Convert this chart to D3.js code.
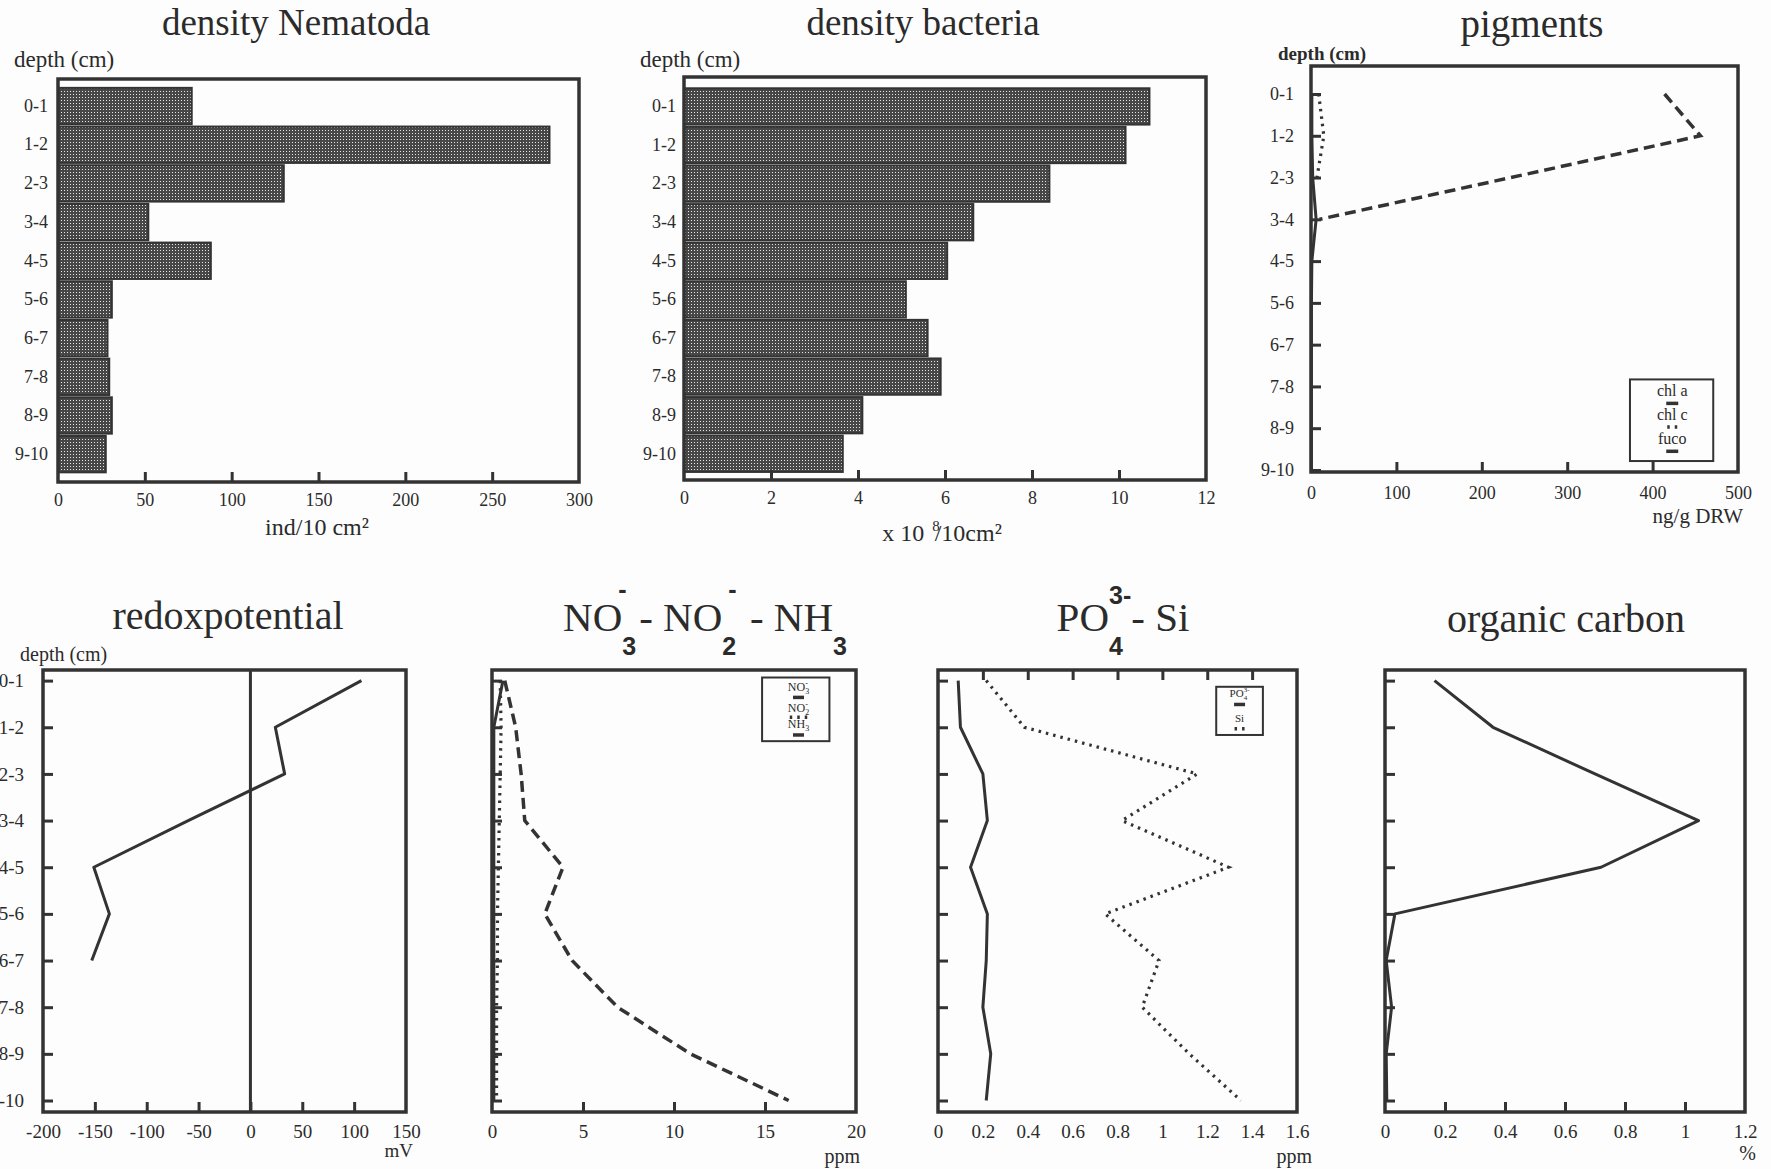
<!DOCTYPE html>
<html>
<head>
<meta charset="utf-8">
<script src="https://cdn.jsdelivr.net/npm/d3@7"></script>
<style>
	body { margin: 0; background: #fdfdfd; }
	svg { display: block; }
	text { font-family: "Liberation Serif", "Times New Roman", serif; fill: #2b2b2b; }
	.sans { font-family: "Liberation Sans", Arial, sans-serif; font-weight: bold; }
	.frame { fill: none; stroke: #333; stroke-width: 3.5; }
	.axis .tick line { stroke: #333; stroke-width: 3; }
	.axis .tick text { fill: #2b2b2b; font-family: "Liberation Serif", "Times New Roman", serif; }
	.ax-top .tick text { font-size: 18px; }
	.ax-bot .tick text { font-size: 19px; }
	.bar { fill: url(#stipple); stroke: #333; stroke-width: 2; }
	.solid { fill: none; stroke: #333; stroke-width: 3; stroke-linejoin: round; }
	.dashed { fill: none; stroke: #333; stroke-width: 3.5; stroke-dasharray: 11 6; }
	.dotted { fill: none; stroke: #333; stroke-width: 3.2; stroke-dasharray: 2.5 5; }
	.sample { stroke-width: 3.5; stroke-dasharray: none; }
	.sample.dotted { stroke-dasharray: 2.5 5; }
	.zero { stroke: #333; stroke-width: 3; }
	.legend-box { fill: #fdfdfd; stroke: #333; stroke-width: 2; }
</style>
</head>
<body>
<svg id="fig" width="1771" height="1169"></svg>
<script>
var DEPTHS = ["0-1", "1-2", "2-3", "3-4", "4-5", "5-6", "6-7", "7-8", "8-9", "9-10"];

// ind/10 cm2
var NEMATODA = [77, 283, 130, 52, 88, 31, 28.5, 29.5, 31, 27.5];
// x 10^8 / 10 cm2
var BACTERIA = [10.7, 10.15, 8.4, 6.65, 6.05, 5.1, 5.6, 5.9, 4.1, 3.65];

// ng/g DRW
var CHL_A = [1, 1, 2, 6, 1, 0.5, 0.5, 0.5, 0.5, 0.5];
var CHL_C = [9, 15, 7, null, null, null, null, null, null, null];
var FUCO  = [414, 456, 234, 10, null, null, null, null, null, null];

// mV
var REDOX = [107, 24, 33, -60, -151, -136, -153, null, null, null];

// ppm
var NO3 = [0.6, 0.1, 0.1, 0.1, 0.1, 0.1, 0.1, 0.1, 0.1, 0.1];
var NO2 = [0.45, 0.5, 0.45, 0.4, 0.35, 0.3, 0.3, 0.25, 0.25, 0.25];
var NH3 = [0.7, 1.3, 1.6, 1.8, 3.9, 2.9, 4.4, 6.9, 10.9, 16.3];

// ppm
var PO4 = [0.09, 0.10, 0.20, 0.22, 0.145, 0.22, 0.215, 0.20, 0.235, 0.215];
var SI  = [0.215, 0.385, 1.155, 0.82, 1.295, 0.745, 0.985, 0.91, 1.12, 1.35];

// %
var ORG_C = [0.165, 0.36, 0.70, 1.045, 0.72, 0.033, 0.004, 0.022, 0.004, 0.006];

var NEMA_TICKS  = [0, 50, 100, 150, 200, 250, 300];
var BACT_TICKS  = [0, 2, 4, 6, 8, 10, 12];
var PIG_TICKS   = [0, 100, 200, 300, 400, 500];
var REDOX_TICKS = [-200, -150, -100, -50, 0, 50, 100, 150];
var N_TICKS     = [0, 5, 10, 15, 20];
var P_TICKS     = [0, 0.2, 0.4, 0.6, 0.8, 1, 1.2, 1.4, 1.6];
var C_TICKS     = [0, 0.2, 0.4, 0.6, 0.8, 1, 1.2];

var svg = d3.select("#fig");

svg.append("rect")
   .attr("width", 1771)
   .attr("height", 1169)
   .attr("fill", "#fdfdfd");

// stippled fill of the bars
var pat = svg.append("defs")
             .append("pattern")
             .attr("id", "stipple")
             .attr("width", 3)
             .attr("height", 3)
             .attr("patternUnits", "userSpaceOnUse");
pat.append("rect").attr("width", 3).attr("height", 3).attr("fill", "#474747");
pat.append("rect").attr("x", 1).attr("y", 1).attr("width", 1).attr("height", 1).attr("fill", "#e6e6e6");

function inner(ticks) {
	return ticks.slice(1, ticks.length - 1);
}

function label(g, x, y, str, size, anchor) {
	return g.append("text")
	        .attr("x", x)
	        .attr("y", y)
	        .attr("font-size", size)
	        .attr("text-anchor", anchor || "start")
	        .text(str);
}

// text with stacked sub/superscripts, centred on cx
function chem(g, cx, y, parts, o) {
	var t = g.append("g");
	var pos = 0;
	parts.forEach(p => {
		if (typeof p === "string") {
			var el = t.append("text")
			          .attr("x", pos)
			          .attr("y", y)
			          .attr("font-size", o.size)
			          .text(p);
			pos += el.node().getComputedTextLength();
		} else {
			var w = 0;
			if (p.sub) {
				var s = t.append("text")
				         .attr("class", o.cls)
				         .attr("x", pos)
				         .attr("y", y + o.drop)
				         .attr("font-size", o.small)
				         .text(p.sub);
				w = Math.max(w, s.node().getComputedTextLength());
			}
			if (p.sup) {
				var u = t.append("text")
				         .attr("class", o.cls)
				         .attr("x", pos + (p.supDx || 0))
				         .attr("y", y - o.rise)
				         .attr("font-size", o.small)
				         .text(p.sup);
				w = Math.max(w, u.node().getComputedTextLength() + (p.supDx || 0));
			}
			pos += w + (p.gap || 0);
		}
	});
	t.attr("transform", "translate(" + (cx - pos / 2) + ",0)");
	return t;
}

function frame(g, box) {
	g.append("rect")
	 .attr("class", "frame")
	 .attr("x", box.x0)
	 .attr("y", box.y0)
	 .attr("width", box.x1 - box.x0)
	 .attr("height", box.y1 - box.y0);
}

function cleanAxis(a) {
	a.attr("font-family", null).attr("font-size", null);
	a.select(".domain").remove();
}

function xAxes(g, box, x, ticks, o) {
	// labels
	g.append("g")
	 .attr("class", "axis " + o.cls)
	 .attr("transform", "translate(0," + box.y1 + ")")
	 .call(d3.axisBottom(x).tickValues(ticks).tickSize(0).tickPadding(o.pad).tickFormat(d => d))
	 .call(cleanAxis);
	// tick marks, pointing into the frame
	var marks = o.top ? d3.axisTop(x) : d3.axisBottom(x);
	g.append("g")
	 .attr("class", "axis")
	 .attr("transform", "translate(0," + (o.top ? box.y0 : box.y1) + ")")
	 .call(marks.tickValues(inner(ticks)).tickSize(-10).tickFormat(""))
	 .call(cleanAxis);
}

function barChart(box, values, ticks, o) {
	var h = box.y1 - box.y0;
	var x = d3.scaleLinear()
	          .domain([ticks[0], ticks[ticks.length - 1]])
	          .range([box.x0, box.x1]);
	var y = d3.scaleBand()
	          .domain(DEPTHS)
	          .range([box.y0 + o.top * h, box.y0 + o.bottom * h])
	          .paddingInner(0.06);
	var g = svg.append("g");

	g.selectAll("rect.bar")
	 .data(values)
	 .enter()
	 .append("rect")
	 .attr("class", "bar")
	 .attr("x", x(0))
	 .attr("y", (d, i) => y(DEPTHS[i]))
	 .attr("width", d => x(d) - x(0))
	 .attr("height", y.bandwidth());

	g.append("g")
	 .attr("class", "axis ax-top")
	 .attr("transform", "translate(" + box.x0 + ",0)")
	 .call(d3.axisLeft(y).tickSize(0).tickPadding(o.labelPad))
	 .call(cleanAxis);

	xAxes(g, box, x, ticks, {cls: "ax-top", pad: 11});
	frame(g, box);
	return {g: g, x: x, y: y, box: box};
}

function lineChart(box, ticks, o) {
	var h = box.y1 - box.y0;
	var x = d3.scaleLinear()
	          .domain([ticks[0], ticks[ticks.length - 1]])
	          .range([box.x0, box.x1]);
	var y = d3.scalePoint()
	          .domain(DEPTHS)
	          .range([box.y0 + o.top * h, box.y0 + o.bottom * h]);
	var g = svg.append("g");

	g.append("g")
	 .attr("class", "axis " + o.cls)
	 .attr("transform", "translate(" + box.x0 + ",0)")
	 .call(d3.axisLeft(y).tickSize(-10).tickPadding(o.labelPad || 3).tickFormat(o.depthLabels ? null : ""))
	 .call(cleanAxis);

	xAxes(g, box, x, ticks, {cls: o.cls, pad: o.pad, top: o.topTicks});
	return {g: g, x: x, y: y, box: box};
}

function addLine(chart, values, cls) {
	var line = d3.line()
	             .defined(d => d != null)
	             .x(d => chart.x(d))
	             .y((d, i) => chart.y(DEPTHS[i]));
	chart.g.append("path")
	       .datum(values)
	       .attr("class", cls)
	       .attr("d", line);
}

function legend(chart, b, items, o) {
	var box = chart.box;
	var w = box.x1 - box.x0, h = box.y1 - box.y0;
	var g = chart.g.append("g");
	g.append("rect")
	 .attr("class", "legend-box")
	 .attr("x", box.x0 + b[0] * w)
	 .attr("y", box.y0 + b[1] * h)
	 .attr("width", (b[2] - b[0]) * w)
	 .attr("height", (b[3] - b[1]) * h);
	var cx = box.x0 + o.cx * w;
	items.forEach(it => {
		chem(g, cx, box.y0 + it.ty * h, it.label, o.font);
		var sy = box.y0 + it.sy * h;
		g.append("line")
		 .attr("class", it.cls + " sample")
		 .attr("x1", cx - it.len / 2)
		 .attr("x2", cx + it.len / 2)
		 .attr("y1", sy)
		 .attr("y2", sy);
	});
}

// ---------- top row ----------

var nema = barChart({x0: 58, x1: 579, y0: 79, y1: 482}, NEMATODA, NEMA_TICKS,
                    {top: 0.022, bottom: 0.976, labelPad: 10});
label(svg, 296, 35, "density Nematoda", 37, "middle");
label(svg, 14, 67, "depth (cm)", 23);
label(svg, 317, 535, "ind/10 cm\u00b2", 24, "middle");

var bact = barChart({x0: 684, x1: 1206, y0: 77, y1: 480}, BACTERIA, BACT_TICKS,
                    {top: 0.028, bottom: 0.98, labelPad: 8});
label(svg, 923, 35, "density bacteria", 37, "middle");
label(svg, 640, 67, "depth (cm)", 23);
var unit = label(svg, 942, 541, "x 10", 24, "middle");
unit.append("tspan").attr("font-size", 15).attr("dy", -10).attr("dx", 8).text("8");
unit.append("tspan").attr("dy", 10).attr("dx", -5).text("/10cm\u00b2");

var pig = lineChart({x0: 1311, x1: 1738, y0: 66, y1: 472}, PIG_TICKS,
                    {top: 0.069, bottom: 0.995, cls: "ax-top", pad: 14, labelPad: 17, depthLabels: true});
addLine(pig, CHL_A, "solid");
addLine(pig, CHL_C, "dotted");
addLine(pig, FUCO, "dashed");
frame(pig.g, pig.box);
legend(pig, [0.747, 0.772, 0.942, 0.973], [
	{label: ["chl a"], ty: 0.814, sy: 0.831, cls: "solid", len: 12},
	{label: ["chl c"], ty: 0.873, sy: 0.889, cls: "dotted", len: 10},
	{label: ["fuco"], ty: 0.931, sy: 0.949, cls: "solid", len: 12}
], {cx: 0.846, font: {size: 16, small: 10, drop: 3, rise: 6, cls: ""}});
label(svg, 1532, 37, "pigments", 39, "middle");
label(svg, 1278, 60, "depth (cm)", 19).attr("font-weight", "bold");
label(svg, 1743, 523, "ng/g DRW", 21, "end");

// ---------- bottom row ----------

var ROW2 = {y0: 670, y1: 1112};
var LINE_OPTS = {top: 0.024, bottom: 0.974, cls: "ax-bot", pad: 13};

var redox = lineChart({x0: 43, x1: 406, y0: ROW2.y0, y1: ROW2.y1}, REDOX_TICKS,
                      Object.assign({}, LINE_OPTS, {labelPad: 19, depthLabels: true}));
redox.g.append("line")
       .attr("class", "zero")
       .attr("x1", redox.x(0))
       .attr("x2", redox.x(0))
       .attr("y1", ROW2.y0)
       .attr("y2", ROW2.y1);
addLine(redox, REDOX, "solid");
frame(redox.g, redox.box);
label(svg, 228, 629, "redoxpotential", 40, "middle");
label(svg, 20, 661, "depth (cm)", 20);
label(svg, 413, 1157, "mV", 19, "end");

var nit = lineChart({x0: 492, x1: 856, y0: ROW2.y0, y1: ROW2.y1}, N_TICKS, LINE_OPTS);
addLine(nit, NO3, "solid");
addLine(nit, NO2, "dotted");
addLine(nit, NH3, "dashed");
frame(nit.g, nit.box);
legend(nit, [0.742, 0.017, 0.927, 0.161], [
	{label: ["NO", {sub: "3", sup: "-"}], ty: 0.047, sy: 0.062, cls: "solid", len: 11},
	{label: ["NO", {sub: "2", sup: "-"}], ty: 0.095, sy: 0.107, cls: "dotted", len: 17.5},
	{label: ["NH", {sub: "3"}], ty: 0.132, sy: 0.147, cls: "solid", len: 11}
], {cx: 0.842, font: {size: 12, small: 8, drop: 3, rise: 5, cls: ""}});
chem(svg, 705, 631, ["NO", {sup: "-", sub: "3", supDx: -4, gap: 3}, "-\u00a0NO", {sup: "-", sub: "2", supDx: 6, gap: 3},
                     "\u00a0-\u00a0NH", {sub: "3"}],
     {size: 41, small: 25, drop: 24, rise: 33, cls: "sans"});
label(svg, 860, 1163, "ppm", 20, "end");

var phos = lineChart({x0: 938, x1: 1297, y0: ROW2.y0, y1: ROW2.y1}, P_TICKS,
                     Object.assign({}, LINE_OPTS, {topTicks: true}));
addLine(phos, PO4, "solid");
addLine(phos, SI, "dotted");
frame(phos.g, phos.box);
legend(phos, [0.775, 0.038, 0.905, 0.147], [
	{label: ["PO", {sub: "4", sup: "3-"}], ty: 0.062, sy: 0.078, cls: "solid", len: 11},
	{label: ["Si"], ty: 0.117, sy: 0.133, cls: "dotted", len: 10}
], {cx: 0.84, font: {size: 11, small: 7, drop: 3, rise: 5, cls: ""}});
chem(svg, 1123, 631, ["PO", {sup: "3-", sub: "4"}, "-\u00a0Si"],
     {size: 41, small: 25, drop: 24, rise: 27, cls: "sans"});
label(svg, 1312, 1163, "ppm", 20, "end");

var carb = lineChart({x0: 1385, x1: 1745, y0: ROW2.y0, y1: ROW2.y1}, C_TICKS, LINE_OPTS);
addLine(carb, ORG_C, "solid");
frame(carb.g, carb.box);
label(svg, 1566, 632, "organic carbon", 40, "middle");
label(svg, 1756, 1160, "%", 20, "end");
</script>
</body>
</html>
